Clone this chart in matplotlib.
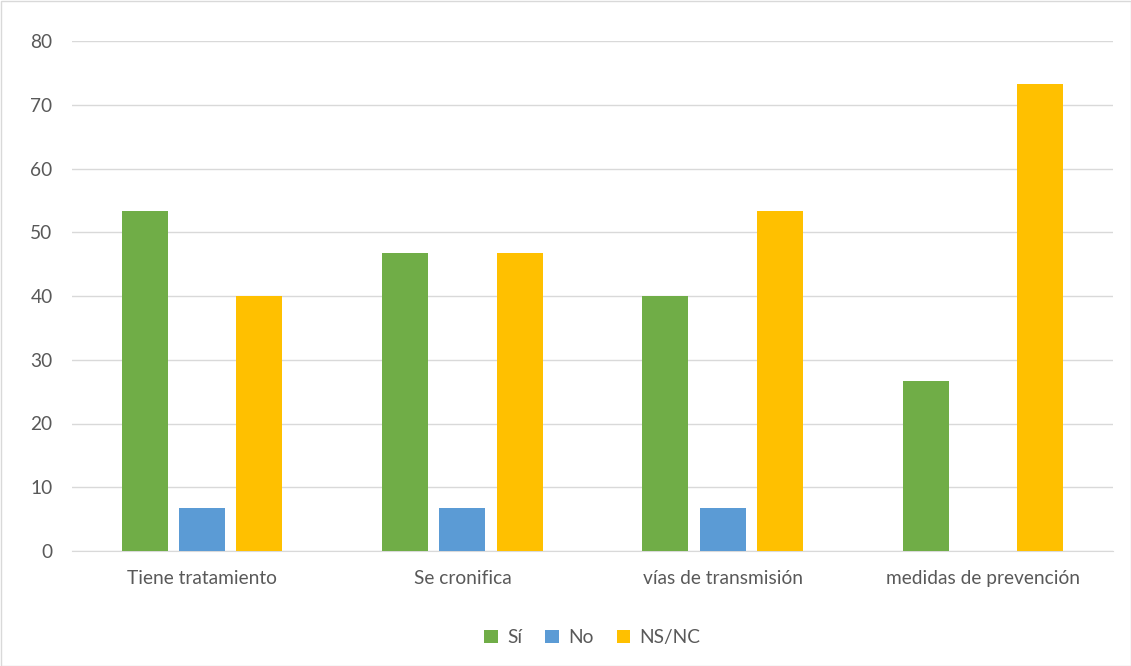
import matplotlib.pyplot as plt
import numpy as np

categorias = ['Tiene tratamiento', 'Se cronifica', 'vías de transmisión', 'medidas de prevención']
si = [53.3, 46.7, 40.0, 26.7]
no = [6.7, 6.7, 6.7, 0.0]
nsnc = [40.0, 46.7, 53.3, 73.3]

plt.rcParams['font.family'] = ['Lato', 'DejaVu Sans']

fig = plt.figure(figsize=(11.31, 6.66), dpi=100)
ax = fig.add_axes([72 / 1131, 1 - 551 / 666, (1113 - 72) / 1131, (551 - 41) / 666])

x = np.arange(len(categorias))
w = 0.176
paso = 0.22
ax.bar(x - paso, si, width=w, color='#70AD47', label='Sí', zorder=3)
ax.bar(x, no, width=w, color='#5B9BD5', label='No', zorder=3)
ax.bar(x + paso, nsnc, width=w, color='#FFC000', label='NS/NC', zorder=3)

ax.set_xlim(-0.5, 3.5)
ax.set_ylim(0, 80)
ax.set_yticks(range(0, 81, 10))
ax.set_xticks(x)
ax.set_xticklabels(categorias)
ax.tick_params(axis='both', length=0, labelsize=13.8, labelcolor='#595959')
ax.tick_params(axis='x', pad=14)
ax.tick_params(axis='y', pad=14)
ax.yaxis.grid(True, color='#D9D9D9', linewidth=1, zorder=0)
for s in ['top', 'right', 'left']:
    ax.spines[s].set_visible(False)
ax.spines['bottom'].set_color('#D9D9D9')

leg = ax.legend(loc='upper center', bbox_to_anchor=(0.5, -0.12), ncol=3, frameon=False,
                fontsize=13.8, handlelength=0.7, handleheight=0.7, columnspacing=1.2, handletextpad=0.5)
for t in leg.get_texts():
    t.set_color('#595959')

fig.patches.append(plt.Rectangle((0.5 / 1131, 0.5 / 666), 1 - 1 / 1131, 1 - 1 / 666, transform=fig.transFigure,
                                 fill=False, edgecolor='#D9D9D9', linewidth=1))

plt.savefig('out.png')
